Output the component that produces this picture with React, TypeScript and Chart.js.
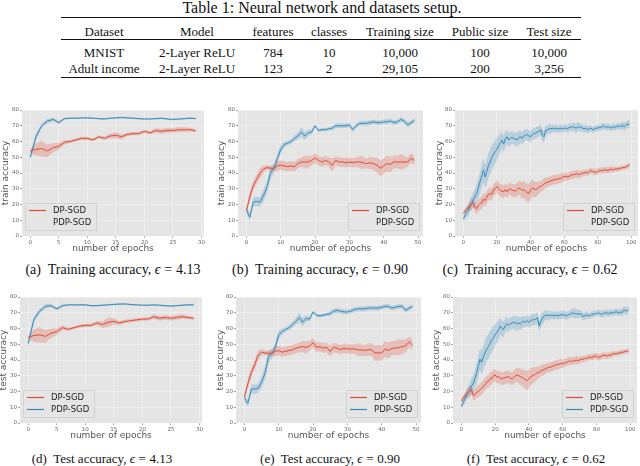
import React, { useEffect, useRef } from "react";
import { Chart, registerables } from "chart.js";
Chart.register(...registerables);

const RED = "#E24A33";
const BLUE = "#348ABD";
const RED_BAND = "rgba(226,74,51,0.25)";
const BLUE_BAND = "rgba(52,138,189,0.25)";

// ---------- data ----------
const epochs30 = [0,1,2,3,4,5,6,7,8,9,10,11,12,13,14,15,16,17,18,19,20,21,22,23,24,25,26,27,28,29];
const epochs50 = [0,1,2,3,4,5,6,7,8,9,10,11,12,13,14,15,16,17,18,19,20,21,22,23,24,25,26,27,28,29,30,31,32,33,34,35,36,37,38,39,40,41,42,43,44,45,46,47,48,49];
const epochs100 = [0,1,2,3,4,5,6,7,8,9,10,11,12,13,14,15,16,17,18,19,20,21,22,23,24,25,26,27,28,29,30,31,32,33,34,35,36,37,38,39,40,41,42,43,44,45,46,47,48,49,50,51,52,53,54,55,56,57,58,59,60,61,62,63,64,65,66,67,68,69,70,71,72,73,74,75,76,77,78,79,80,81,82,83,84,85,86,87,88,89,90,91,92,93,94,95,96,97,98,99];

const xTicks30 = [0, 5, 10, 15, 20, 25, 30];
const xTicks50 = [0, 10, 20, 30, 40, 50];
const xTicks100 = [0, 20, 40, 60, 80, 100];
const yTicks = [0, 10, 20, 30, 40, 50, 60, 70, 80];

// (a) training, eps = 4.13
const trainA_dp = [54,55,55.5,54,56,57,59.5,60,61,62, 62,61,63,62,63.5,64,63,64.5,65,65, 66.5,65.5,67,66.5,67,67,67.5,67.5,67.5,66.8];
const trainA_dpBand = [1,4,5,4,3,2,1.5,1,1,1, 1,1,1,1,1.5,2,1.5,1,1,1, 1,1,1.5,1.5,1.5,1.5,1.5,1.5,1.2,1];
const trainA_pdp = [50,63,70,73,74,72,74.5,74.8,74.8,75, 75,74.8,74.5,74.3,74.8,75,75.2,75,74.8,74.5, 74.3,74.3,74.5,74.8,74.3,74,74.3,74.5,74.8,74.6];
const trainA_pdpBand = [2.5,2,1.5,1.5,1.2,1,0.6,0.5,0.5,0.5, 0.5,0.5,0.5,0.5,0.5,0.5,0.5,0.5,0.5,0.5, 0.5,0.5,0.5,0.5,0.5,0.5,0.5,0.5,0.5,0.5];

// (d) test, eps = 4.13
const testA_dp = [54.5,55.5,56,55,57,58,60.5,59.5,60.5,61.5, 62,62,63.5,62.5,64,64.5,63.5,64.5,65,65.5, 66,66,67.5,66.5,67,66.5,67,67.5,67,66.5];
const testA_dpBand = [1,4,5,4,3,2,1.5,1,1,1, 1,1,1.2,2,3,2,1.2,1,1,1, 1,1,1.5,1.5,1.5,1.5,1.5,1.5,1,1];
const testA_pdp = [50.5,66,71,74,74.5,72.5,74.5,75,75,75, 75,74.5,74.5,74.8,75,75.3,75.5,75.6,75.2,75, 74.8,74.8,75,74.8,74.5,74.2,74.5,74.8,75,75];
const testA_pdpBand = [2.5,2,1.5,1.5,1.2,1,0.8,0.6,0.5,0.5, 0.5,0.5,0.5,0.5,0.5,0.5,0.5,0.5,0.5,0.5, 0.5,0.5,0.5,0.5,0.5,0.5,0.5,0.5,0.5,0.5];

// (b) training, eps = 0.90
const trainB_dp = [16,25,32,36,40,42.5,43.5,43,43,44.5, 45,44.5,44,44.5,44,46,47,47,47,48, 49.5,48,47,48,47,45,48,47,47,46.5, 47,46.5,47,47,46.5,46,46.5,46,45,43, 44.5,46,45.5,47,47,47,47,47,49.5,48];
const trainB_dpBand = [2,3,3,3,3,2.5,1.5,1.5,2,3, 3,3,3,3,3,3,3,4,4,3, 3,3,3,3,3,4,3,3,3,3, 3,3,3,4,4,3,4,4,5,5, 5,5,5,4,4,5,4,3,3,3];
const trainB_pdp = [16.5,12,21.5,22,21.5,26,31,40,43,49, 55,58,59,60,62,63.5,66,63.5,65.5,66, 70,67,67.5,67.5,68,68.5,70,70,70,70, 70.5,67.5,70,71.5,71.5,71.5,72,72.5,72,72, 72.5,72.5,73,72,72.5,74,73,70.5,72,73.5];
const trainB_pdpBand = [3,2,3,3,3,4,4,4,3,3, 3,2,1.5,1.5,2,2,3,2.5,2,1.5, 1,1,1,1,1,1.5,1.5,1.5,1.5,1.5, 1.5,1.5,1.5,1.5,1.5,1.5,1.5,1.5,1.5,1.5, 1.5,1.5,1.5,1.5,1.5,1.5,1.5,1.5,1.5,1.5];

// (e) test, eps = 0.90
const testB_dp = [16.5,25,32,37,43,45,44.5,44,44.5,45.5, 46,45,45.5,46,46.5,47.5,48,48.5,48,49, 51,48,48.5,47.5,48,45.5,48,47.5,46.5,47.5, 47,47,47,46.5,46.5,46,46.5,46.5,44.5,44.5, 44.5,47,46,47.5,47.5,48,48.5,49,51.5,49.5];
const testB_dpBand = [2,3,3,3,3,2,1.5,1.5,2,3, 3,3,3,3,3,3,3,3.5,4,3, 3,3,3,3,3,3.5,3,3,3,3, 3,3,3,4,4,3.5,4,4,5,5, 5,5,5,4.5,4.5,5,4.5,4,3.5,3];
const testB_pdp = [16,12.5,21.5,21.5,22,26,31.5,42,44,48, 56,58,59.5,60.5,62.5,64.5,67,64,66.5,66, 70.5,68.5,68,68.5,69,69.5,71,71.5,71,70.5, 70.5,71,72,72.5,72.5,72.5,73,73,73,73, 73.5,74,74,73,73.5,74,74,71.5,73,74];
const testB_pdpBand = [3,2,3,3,3,4,4,4,3,3, 3,2,1.5,1.5,2,2,3,2.5,2,1.5, 1,1,1,1,1,1.5,1.5,1.5,1.5,1.5, 1.5,1.5,1.5,1.5,1.5,1.5,1.5,1.5,1.5,1.5, 1.5,1.5,1.5,1.5,1.5,1.5,1.5,1.5,1.5,1.5];

// (c) training, eps = 0.62
const trainC_dp = [14.5,16,17,18.5,19,20.5,21,18,17.5,19.5, 20.5,21,23.5,22.5,24.5,26.5,27,26.5,29.5,30, 31.5,30,29,28.5,28,29.5,28,29.5,30,29, 29,28.5,29.5,30.5,30,29,29.5,28.5,27.5,27, 29,30.5,30,29.5,30,31,31.5,32,33,34, 34,34.5,35,35.5,35.5,36,36,36.5,36.5,37.5, 37.5,38,37.5,38,38.5,39,39,39.5,39.5,39, 39.5,40,40,40.5,40,41,41.5,41,40.5,40.5, 41,41.5,41.5,41.5,42,42,41.5,42,42.5,42, 42.5,42.5,42.5,43,43,43.5,43.5,44,44.5,45];
const trainC_dpBand = [1,1.5,2,2.5,3,3,3,3,3.5,3.5, 4,4,4,4,4,4,4,4,4,4, 4,4,4,4,4,4,4,4,4,4, 4,4,4.5,4.5,5,5,5.5,5.5,6,6, 6,5.5,5,5,4.5,4,3.5,3.5,3.5,3.5, 3,3,3,3,3,3,3,3,3,3, 2.5,2.5,2.5,2.5,2.5,2.5,2.5,2.5,2.5,2.5, 2,2,2,2,2,2,2,2,2,2, 2,2,2,2,2,2,2,2,2,2, 1.5,1.5,1.5,1.5,1.5,1.5,1.5,1.5,1.5,1.5];
const trainC_pdp = [11,13,15,16,19.5,21,23,25,27,31, 34.5,38,42,37.5,41,45,47,50,52,53.5, 55,57.5,59,61,58.5,61.5,63,61,62,62.5, 62,61.5,61,62.5,63,62,63.5,64,64.5,63.5, 63,64.5,65,65.5,66,66.5,67.5,64,63,67, 67.5,68,68,68.5,68,68.5,68,68,68.5,68, 68.5,68.5,68,69,69,69.5,69,68.5,69,69.5, 69,68.5,68,68.5,67.5,68,68.5,67.5,68,68.5, 68.5,69,69,70,69.5,69,69.5,69,68.5,69.5, 69,69.5,70,69.5,70,70,69.5,70.5,71,71];
const trainC_pdpBand = [2,2.5,3,3.5,4,4.5,5,5.5,6,6.5, 7,7,7.5,7.5,8,8,8,8,7.5,7.5, 7,6.5,6,5.5,5,5,4.5,4.5,4,4, 4,4,4.5,4.5,4,4,4,3.5,3.5,3.5, 3.5,3.5,3.5,3.5,3.5,3.5,3.5,4,4,3.5, 3,3,3,2.5,2.5,2.5,2.5,2.5,2.5,2.5, 2.5,2.5,2.5,2.5,2.5,2.5,3,3,3,2.5, 2.5,2.5,2.5,2.5,2.5,2,2,2,2,2, 2,2,2,2,2,2,2,2,2,2, 2,2,2,2,2,2.5,2.5,2.5,2.5,2.5];

// (f) test, eps = 0.62
const testC_dp = [14,16,17,18.5,19.5,20.5,21,17.5,18,19.5, 20,21,22,23,24.5,26,26.5,28,28.5,30, 30.5,29,29.5,28.5,28,28.5,29,29,29.5,28.5, 28,29,30,30.5,30,29.5,29,28,27.5,27, 28,29.5,30,30.5,31,32,32,33,33.5,34, 34.5,35,35.5,35.5,36,36.5,37,37,37.5,38, 37.5,38,38.5,39,39.5,39,39.5,39.5,40,39.5, 40,40.5,40.5,41,41,41.5,42,41.5,42,42.5, 42.5,41.5,42,42.5,43,43,42.5,43,43,43.5, 44,44,44,44.5,44.5,45,45,45.5,45.5,46];
const testC_dpBand = [1,1.5,2,2.5,3,3,3,3,3.5,3.5, 4,4,4,4,4,4,4,4,4,4, 4,4,4,4,4,4,4,4,4,4, 4,4,4.5,4.5,5,5,5.5,5.5,6,6, 6,5.5,5,5,4.5,4,3.5,3.5,3.5,3.5, 3,3,3,3,3,3,3,3,3,3, 2.5,2.5,2.5,2.5,2.5,2.5,2.5,2.5,2.5,2.5, 2,2,2,2,2,2,2,2,2,2, 2,2,2,2,2,2,2,2,2,2, 1.5,1.5,1.5,1.5,1.5,1.5,1.5,1.5,1.5,1.5];
const testC_pdp = [10.5,13,15,18,19.5,21,23.5,25,28,31.5, 36,40.5,38.5,42,44.5,47,48.5,50.5,53,54, 56,57.5,59,61.5,60,59.5,62,63,62,63, 63.5,64,63.5,63,63.5,63,64,64.5,64,65, 64,65,65.5,65.5,66,67,61.5,64.5,66.5,68, 68.5,68.5,68,68.5,68.5,68,68.5,68,68.5,68.5, 69,68.5,68,68.5,69,69.5,70,69.5,69.5,69, 69.5,69,67.5,68,68.5,68.5,68,69,69,69.5, 69.5,70,69.5,69,69.5,70,70,69.5,70,70, 70,70.5,70.5,70,70.5,70,71.5,71.5,71,72];
const testC_pdpBand = [2,2.5,3,3.5,4,4.5,5,5.5,6,6.5, 7,7,7.5,7.5,8,8,8,8,7.5,7.5, 7,6.5,6,5.5,5,5,4.5,4.5,4,4, 4,4,4.5,4.5,4,4,4,3.5,3.5,3.5, 3.5,3.5,3.5,3.5,3.5,3.5,3.5,4,4,3.5, 3,3,3,2.5,2.5,2.5,2.5,2.5,2.5,2.5, 2.5,2.5,2.5,2.5,2.5,2.5,3,3,3,2.5, 2.5,2.5,2.5,2.5,2.5,2,2,2,2,2, 2,2,2,2,2,2,2,2,2,2, 2,2,2,2,2,2.5,2.5,2.5,2.5,2.5];

// table
const tableHeaders = ["Dataset", "Model", "features", "classes", "Training size", "Public size", "Test size"];
const tableRowMnist = ["MNIST", "2-Layer ReLU", "784", "10", "10,000", "100", "10,000"];
const tableRowAdult = ["Adult income", "2-Layer ReLU", "123", "2", "29,105", "200", "3,256"];
const tableColX = [104, 197, 273, 329, 400, 480, 549];

// ---------- plugins ----------
const bgPlugin = {
  id: "bgPlugin",
  beforeDraw(chart: any) {
    const { ctx, chartArea } = chart;
    ctx.save();
    ctx.fillStyle = "#E5E5E5";
    ctx.fillRect(chartArea.left, chartArea.top, chartArea.right - chartArea.left, chartArea.bottom - chartArea.top);
    ctx.restore();
  },
};

const insideLegend = {
  id: "insideLegend",
  afterDraw(chart: any, _args: any, opts: any) {
    const { ctx, chartArea } = chart;
    const w = 71, h = 27;
    const x = opts.side === "left" ? chartArea.left + 3 : chartArea.right - 4 - w;
    const y = chartArea.bottom - 6 - h;
    ctx.save();
    ctx.fillStyle = "rgba(229,229,229,0.8)";
    ctx.strokeStyle = "#CCCCCC";
    ctx.lineWidth = 0.8;
    ctx.beginPath();
    ctx.rect(x + 0.5, y + 0.5, w, h);
    ctx.fill();
    ctx.stroke();
    (opts.items || []).forEach((it: any, i: number) => {
      const cy = y + 7.5 + i * 12;
      ctx.strokeStyle = it.color;
      ctx.lineWidth = 1.2;
      ctx.setLineDash(it.dash || []);
      ctx.beginPath();
      ctx.moveTo(x + 4, cy);
      ctx.lineTo(x + 21, cy);
      ctx.stroke();
      ctx.setLineDash([]);
      ctx.fillStyle = "#222";
      ctx.font = '8.5px "DejaVu Sans"';
      ctx.textBaseline = "middle";
      ctx.textAlign = "left";
      ctx.fillText(it.label, x + 28, cy);
    });
    ctx.restore();
  },
};

type PanelProps = {
  left: number; top: number; width: number; height: number;
  padTop: number; padRight: number; yWidth: number;
  xMin: number; xMax: number; xTicks: number[]; epochs: number[];
  dp: number[]; dpBand: number[]; pdp: number[]; pdpBand: number[];
  yTitle: string; legendSide: "left" | "right"; faintLegend: boolean;
};

function Panel(p: PanelProps) {
  const ref = useRef<HTMLCanvasElement>(null);
  useEffect(() => {
    const pts = (m: number[]) => p.epochs.map((x, i) => ({ x, y: m[i] }));
    const lo = (m: number[], b: number[]) => p.epochs.map((x, i) => ({ x, y: m[i] - b[i] }));
    const hi = (m: number[], b: number[]) => p.epochs.map((x, i) => ({ x, y: m[i] + b[i] }));
    const bandBase = { borderWidth: 0, borderColor: "transparent", pointRadius: 0, order: 3 };
    const tickFont = { size: 5.5, family: "DejaVu Sans" };
    const titleFont = { size: 9, family: "DejaVu Sans" };
    const gridColor = "rgba(255,255,255,0.45)";
    const chart = new Chart(ref.current!, {
      type: "line",
      data: {
        datasets: [
          { ...bandBase, label: "dpLo", data: lo(p.dp, p.dpBand), fill: false },
          { ...bandBase, label: "dpHi", data: hi(p.dp, p.dpBand), fill: "-1", backgroundColor: RED_BAND },
          { ...bandBase, label: "pdpLo", data: lo(p.pdp, p.pdpBand), fill: false },
          { ...bandBase, label: "pdpHi", data: hi(p.pdp, p.pdpBand), fill: "-1", backgroundColor: BLUE_BAND },
          { label: "DP-SGD", data: pts(p.dp), borderColor: RED, borderWidth: 1, pointRadius: 0, fill: false, order: 1 },
          { label: "PDP-SGD", data: pts(p.pdp), borderColor: BLUE, borderWidth: 1, pointRadius: 0, fill: false, order: 1 },
        ] as any,
      },
      options: {
        animation: false,
        responsive: false,
        events: [],
        layout: { padding: { top: p.padTop, right: p.padRight, left: 0, bottom: 0 } },
        plugins: {
          legend: { display: false },
          tooltip: { enabled: false },
          insideLegend: {
            side: p.legendSide,
            items: [
              { label: "DP-SGD", color: RED },
              p.faintLegend
                ? { label: "PDP-SGD", color: "rgba(240,240,240,0.9)", dash: [1, 1.5] }
                : { label: "PDP-SGD", color: BLUE },
            ],
          },
        } as any,
        scales: {
          x: {
            type: "linear",
            min: p.xMin,
            max: p.xMax,
            afterFit: (s: any) => { s.height = 18; },
            afterBuildTicks: (s: any) => { s.ticks = p.xTicks.map((v) => ({ value: v })); },
            ticks: { font: tickFont, color: "#666", padding: 1, maxRotation: 0, autoSkip: false },
            grid: { color: gridColor, lineWidth: 0.8, tickLength: 2, tickColor: "#888" },
            border: { display: false },
            title: { display: true, text: "number of epochs", font: titleFont, color: "#555", padding: 0 },
          },
          y: {
            type: "linear",
            min: 0,
            max: 80,
            afterFit: (s: any) => { s.width = p.yWidth; },
            afterBuildTicks: (s: any) => { s.ticks = yTicks.map((v) => ({ value: v })); },
            ticks: { font: tickFont, color: "#666", padding: 1 },
            grid: { color: gridColor, lineWidth: 0.8, tickLength: 2, tickColor: "#888" },
            border: { display: false },
            title: { display: true, text: p.yTitle, font: titleFont, color: "#555", padding: 0 },
          },
        } as any,
      },
      plugins: [bgPlugin, insideLegend],
    });
    return () => chart.destroy();
  }, []);
  return (
    <canvas
      ref={ref}
      width={p.width}
      height={p.height}
      style={{ position: "absolute", left: p.left, top: p.top, width: p.width, height: p.height }}
    />
  );
}

const serif = '"Liberation Serif", "Times New Roman", serif';

function Caption({ x, y, tag, label, eps, size }: { x: number; y: number; tag: string; label: string; eps: string; size: number }) {
  return (
    <div
      style={{
        position: "absolute", left: x, top: y, transform: "translate(-50%, -50%)",
        whiteSpace: "nowrap", fontFamily: serif, fontSize: size, color: "#111", lineHeight: 1,
      }}
    >
      {tag}&nbsp; {label}, <i>ϵ</i>
      <span style={{ margin: "0 0.28em" }}>=</span>
      {eps}
    </div>
  );
}

function Cell({ x, y, text, size = 13 }: { x: number; y: number; text: string; size?: number }) {
  return (
    <div
      style={{
        position: "absolute", left: x, top: y, transform: "translate(-50%, -50%)",
        whiteSpace: "nowrap", fontFamily: serif, fontSize: size, color: "#111", lineHeight: 1,
      }}
    >
      {text}
    </div>
  );
}

function Rule({ y, h }: { y: number; h: number }) {
  return <div style={{ position: "absolute", left: 61, width: 520, top: y - h / 2, height: h, background: "#111" }} />;
}

export default function App() {
  return (
    <div style={{ position: "absolute", left: 0, top: 0, width: 640, height: 466, background: "#fff", overflow: "hidden" }}>
      <Cell x={322} y={7.5} text="Table 1: Neural network and datasets setup." size={16} />
      <Rule y={17.5} h={1.4} />
      {tableHeaders.map((t, i) => <Cell key={"h" + i} x={tableColX[i]} y={30.5} text={t} />)}
      <Rule y={39} h={0.9} />
      {tableRowMnist.map((t, i) => <Cell key={"m" + i} x={tableColX[i]} y={52} text={t} />)}
      {tableRowAdult.map((t, i) => <Cell key={"a" + i} x={tableColX[i]} y={68} text={t} />)}
      <Rule y={77.5} h={1.4} />

      <Panel left={0} top={100} width={212} height={154} padTop={10} padRight={8} yWidth={22}
        xMin={-1.45} xMax={30.45} xTicks={xTicks30} epochs={epochs30}
        dp={trainA_dp} dpBand={trainA_dpBand} pdp={trainA_pdp} pdpBand={trainA_pdpBand}
        yTitle="train accuracy" legendSide="left" faintLegend={true} />
      <Panel left={216} top={100} width={215} height={154} padTop={10} padRight={8} yWidth={22}
        xMin={-2.45} xMax={51.45} xTicks={xTicks50} epochs={epochs50}
        dp={trainB_dp} dpBand={trainB_dpBand} pdp={trainB_pdp} pdpBand={trainB_pdpBand}
        yTitle="train accuracy" legendSide="right" faintLegend={true} />
      <Panel left={434} top={100} width={206} height={154} padTop={10} padRight={2} yWidth={21}
        xMin={-4.95} xMax={103.95} xTicks={xTicks100} epochs={epochs100}
        dp={trainC_dp} dpBand={trainC_dpBand} pdp={trainC_pdp} pdpBand={trainC_pdpBand}
        yTitle="train accuracy" legendSide="right" faintLegend={true} />

      <Caption x={113} y={270} tag="(a)" label="Training accuracy" eps="4.13" size={14} />
      <Caption x={320} y={270} tag="(b)" label="Training accuracy" eps="0.90" size={14} />
      <Caption x={530} y={270} tag="(c)" label="Training accuracy" eps="0.62" size={14} />

      <Panel left={-2} top={286} width={212} height={155} padTop={11} padRight={8} yWidth={22}
        xMin={-1.45} xMax={30.45} xTicks={xTicks30} epochs={epochs30}
        dp={testA_dp} dpBand={testA_dpBand} pdp={testA_pdp} pdpBand={testA_pdpBand}
        yTitle="test accuracy" legendSide="left" faintLegend={false} />
      <Panel left={215} top={286} width={214} height={155} padTop={11} padRight={8} yWidth={21}
        xMin={-2.45} xMax={51.45} xTicks={xTicks50} epochs={epochs50}
        dp={testB_dp} dpBand={testB_dpBand} pdp={testB_pdp} pdpBand={testB_pdpBand}
        yTitle="test accuracy" legendSide="right" faintLegend={false} />
      <Panel left={431} top={286} width={209} height={155} padTop={11} padRight={3} yWidth={22}
        xMin={-4.95} xMax={103.95} xTicks={xTicks100} epochs={epochs100}
        dp={testC_dp} dpBand={testC_dpBand} pdp={testC_pdp} pdpBand={testC_pdpBand}
        yTitle="test accuracy" legendSide="right" faintLegend={false} />

      <Caption x={102} y={458} tag="(d)" label="Test accuracy" eps="4.13" size={13} />
      <Caption x={330} y={458} tag="(e)" label="Test accuracy" eps="0.90" size={13} />
      <Caption x={536} y={458} tag="(f)" label="Test accuracy" eps="0.62" size={13} />
    </div>
  );
}
